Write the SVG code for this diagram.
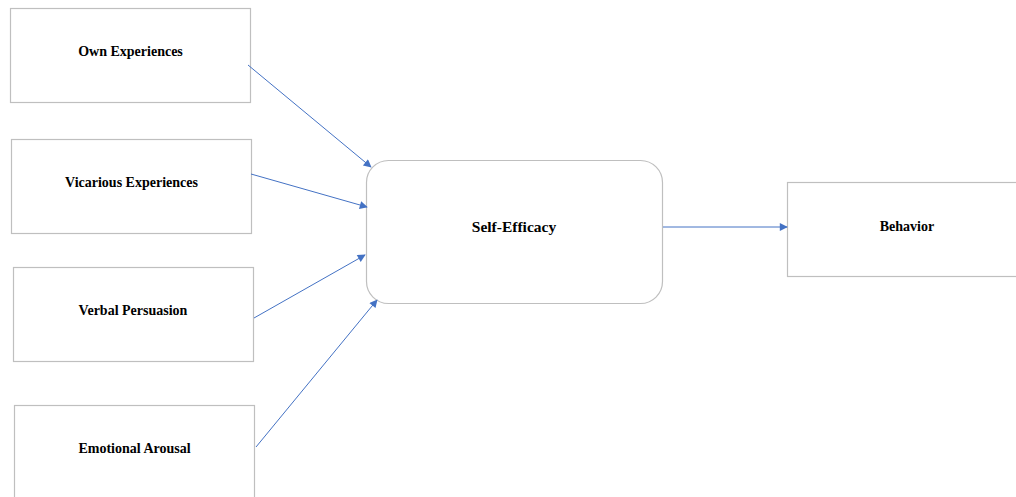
<svg xmlns="http://www.w3.org/2000/svg" width="1016" height="497" viewBox="0 0 1016 497">
<style>
.box{fill:#fff;stroke:#bfbfbf;stroke-width:1.2}
.lbl{font-family:"Liberation Serif",serif;font-weight:bold;font-size:14px;fill:#000;text-anchor:middle}
.conn{stroke:#4472c4;stroke-width:1;fill:none;marker-end:url(#ah)}
</style>
<defs>
<marker id="ah" viewBox="0 0 10 10" refX="9" refY="5" markerWidth="10" markerHeight="8" markerUnits="userSpaceOnUse" orient="auto">
<path d="M0,0 L10,5 L0,10 z" fill="#4472c4"/>
</marker>
</defs>
<rect width="1016" height="497" fill="#fff"/>
<g id="own"><rect class="box" x="10.5" y="8.5" width="240" height="94"/><text class="lbl" x="130.5" y="56">Own Experiences</text></g>
<g id="vicarious"><rect class="box" x="11.5" y="139.5" width="240" height="94"/><text class="lbl" x="131.5" y="187">Vicarious Experiences</text></g>
<g id="verbal"><rect class="box" x="13.5" y="267.5" width="240" height="94"/><text class="lbl" x="133" y="315">Verbal Persuasion</text></g>
<g id="emotional"><rect class="box" x="14.5" y="405.5" width="240" height="100"/><text class="lbl" x="134.5" y="453">Emotional Arousal</text></g>
<g id="selfefficacy"><rect class="box" x="366.5" y="160.5" width="296" height="143" rx="22" ry="22"/><text class="lbl" x="514" y="232" style="font-size:15.5px">Self-Efficacy</text></g>
<g id="behavior"><rect class="box" x="787.5" y="182.5" width="240" height="94"/><text class="lbl" x="907" y="231">Behavior</text></g>
<g id="connectors">
<line class="conn" x1="248" y1="65" x2="371" y2="167"/>
<line class="conn" x1="251" y1="174" x2="367" y2="207"/>
<line class="conn" x1="254" y1="318" x2="365" y2="255"/>
<line class="conn" x1="256" y1="447" x2="377" y2="300"/>
<line class="conn" x1="663" y1="227" x2="787" y2="227"/>
</g>
</svg>
